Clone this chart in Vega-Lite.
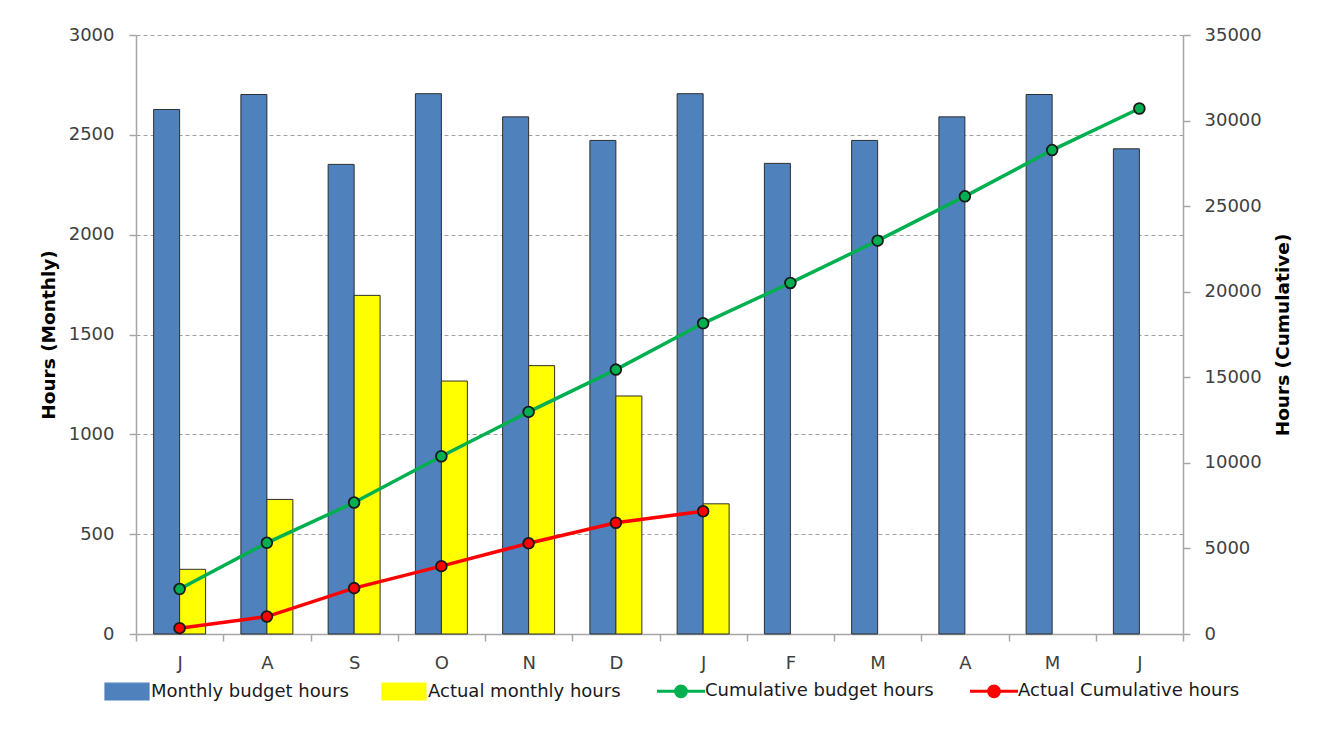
{
  "$schema": "https://vega.github.io/schema/vega-lite/v6.json",
  "width": 1047,
  "height": 599,
  "autosize": {"type": "none"},
  "padding": {"left": 136, "top": 35, "right": 137, "bottom": 119},
  "background": "white",
  "config": {
    "view": {"stroke": null},
    "font": "DejaVu Sans",
    "axis": {
      "labelFont": "DejaVu Sans",
      "labelFontSize": 18,
      "labelColor": "#404040",
      "titleFont": "DejaVu Sans",
      "titleFontSize": 18.5,
      "titleFontWeight": "bold",
      "titleColor": "#000000",
      "domainColor": "#a6a6a6",
      "domainWidth": 1.5,
      "tickColor": "#a6a6a6",
      "tickWidth": 1.5,
      "tickSize": 7
    },
    "legend": {"labelFont": "DejaVu Sans", "labelFontSize": 18, "labelColor": "#1a1a1a", "labelLimit": 400}
  },
  "datasets": {
    "bars": [
      {"month": "Jul", "series": "Monthly budget hours", "hours": 2627},
      {"month": "Aug", "series": "Monthly budget hours", "hours": 2702},
      {"month": "Sep", "series": "Monthly budget hours", "hours": 2352},
      {"month": "Oct", "series": "Monthly budget hours", "hours": 2706},
      {"month": "Nov", "series": "Monthly budget hours", "hours": 2590},
      {"month": "Dec", "series": "Monthly budget hours", "hours": 2472},
      {"month": "Jan", "series": "Monthly budget hours", "hours": 2706},
      {"month": "Feb", "series": "Monthly budget hours", "hours": 2357},
      {"month": "Mar", "series": "Monthly budget hours", "hours": 2472},
      {"month": "Apr", "series": "Monthly budget hours", "hours": 2590},
      {"month": "May", "series": "Monthly budget hours", "hours": 2702},
      {"month": "Jun", "series": "Monthly budget hours", "hours": 2430},
      {"month": "Jul", "series": "Actual monthly hours", "hours": 324},
      {"month": "Aug", "series": "Actual monthly hours", "hours": 674},
      {"month": "Sep", "series": "Actual monthly hours", "hours": 1696},
      {"month": "Oct", "series": "Actual monthly hours", "hours": 1267},
      {"month": "Nov", "series": "Actual monthly hours", "hours": 1344},
      {"month": "Dec", "series": "Actual monthly hours", "hours": 1192},
      {"month": "Jan", "series": "Actual monthly hours", "hours": 652}
    ],
    "lines": [
      {"month": "Jul", "series": "Cumulative budget hours", "cum": 2627},
      {"month": "Aug", "series": "Cumulative budget hours", "cum": 5329},
      {"month": "Sep", "series": "Cumulative budget hours", "cum": 7681},
      {"month": "Oct", "series": "Cumulative budget hours", "cum": 10387},
      {"month": "Nov", "series": "Cumulative budget hours", "cum": 12977},
      {"month": "Dec", "series": "Cumulative budget hours", "cum": 15449},
      {"month": "Jan", "series": "Cumulative budget hours", "cum": 18155},
      {"month": "Feb", "series": "Cumulative budget hours", "cum": 20512},
      {"month": "Mar", "series": "Cumulative budget hours", "cum": 22984},
      {"month": "Apr", "series": "Cumulative budget hours", "cum": 25574},
      {"month": "May", "series": "Cumulative budget hours", "cum": 28276},
      {"month": "Jun", "series": "Cumulative budget hours", "cum": 30706},
      {"month": "Jul", "series": "Actual Cumulative hours", "cum": 340},
      {"month": "Aug", "series": "Actual Cumulative hours", "cum": 1020},
      {"month": "Sep", "series": "Actual Cumulative hours", "cum": 2680},
      {"month": "Oct", "series": "Actual Cumulative hours", "cum": 3965},
      {"month": "Nov", "series": "Actual Cumulative hours", "cum": 5300},
      {"month": "Dec", "series": "Actual Cumulative hours", "cum": 6500},
      {"month": "Jan", "series": "Actual Cumulative hours", "cum": 7170}
    ]
  },
  "layer": [
    {
      "data": {"name": "bars"},
      "mark": {"type": "bar", "stroke": "#2e2e2e", "strokeWidth": 1},
      "encoding": {
        "x": {
          "field": "month",
          "type": "nominal",
          "sort": ["Jul", "Aug", "Sep", "Oct", "Nov", "Dec", "Jan", "Feb", "Mar", "Apr", "May", "Jun"],
          "scale": {"paddingInner": 0, "paddingOuter": 0},
          "axis": {
            "title": null,
            "labelAngle": 0,
            "labelExpr": "slice(datum.label, 0, 1)",
            "tickBand": "extent",
            "labelPadding": 13,
            "grid": false
          }
        },
        "xOffset": {
          "field": "series",
          "type": "nominal",
          "scale": {"domain": ["Monthly budget hours", "Actual monthly hours"], "paddingInner": 0, "paddingOuter": 0.678}
        },
        "y": {
          "field": "hours",
          "type": "quantitative",
          "scale": {"domain": [0, 3000], "nice": false},
          "axis": {
            "title": "Hours (Monthly)",
            "values": [0, 500, 1000, 1500, 2000, 2500, 3000],
            "format": "d",
            "grid": true,
            "gridDash": [4, 3],
            "gridColor": "#a0a0a0",
            "gridWidth": 1,
            "labelPadding": 15,
            "titlePadding": 10
          }
        },
        "color": {
          "field": "series",
          "type": "nominal",
          "scale": {
            "domain": ["Monthly budget hours", "Actual monthly hours", "Cumulative budget hours", "Actual Cumulative hours"],
            "range": ["#4F81BD", "#FFFF00", "#00B050", "#FF0000"]
          },
          "legend": {
            "title": null,
            "orient": "none",
            "legendX": -18,
            "legendY": 647,
            "direction": "horizontal",
            "symbolType": "M-1.1,-0.42H1.1V0.42H-1.1Z",
            "symbolSize": 1600,
            "symbolStrokeColor": "#2e2e2e",
            "symbolStrokeWidth": 1,
            "labelOffset": 15,
            "columnPadding": 30,
            "encode": {
              "symbols": {
                "update": {
                  "shape": {"signal": "(datum.value == 'Monthly budget hours' || datum.value == 'Actual monthly hours') ? 'M-1.1,-0.42H1.1V0.42H-1.1Z' : 'M-1.2,0H-0.27M0.27,0H1.2M-0.27,0A0.27,0.27 0 1,1 0.27,0A0.27,0.27 0 1,1 -0.27,0Z'"},
                  "stroke": {"signal": "(datum.value == 'Monthly budget hours' || datum.value == 'Actual monthly hours') ? '#2e2e2e' : scale('color', datum.value)"},
                  "strokeWidth": {"signal": "(datum.value == 'Monthly budget hours' || datum.value == 'Actual monthly hours') ? 1.2 : 3"}
                }
              }
            }
          }
        }
      }
    },
    {
      "data": {"name": "lines"},
      "mark": {
        "type": "line",
        "strokeWidth": 3.5,
        "point": {"filled": true, "size": 115, "stroke": "#1a1a1a", "strokeWidth": 1.8}
      },
      "encoding": {
        "x": {
          "field": "month",
          "type": "nominal",
          "sort": ["Jul", "Aug", "Sep", "Oct", "Nov", "Dec", "Jan", "Feb", "Mar", "Apr", "May", "Jun"]
        },
        "y": {
          "field": "cum",
          "type": "quantitative",
          "scale": {"domain": [0, 35000], "nice": false},
          "axis": {
            "orient": "right",
            "title": "Hours (Cumulative)",
            "titleAngle": -90,
            "titleBaseline": "top",
            "values": [0, 5000, 10000, 15000, 20000, 25000, 30000, 35000],
            "format": "d",
            "grid": false,
            "labelPadding": 14,
            "titlePadding": 12
          }
        },
        "color": {"field": "series", "type": "nominal"}
      }
    }
  ],
  "resolve": {"scale": {"y": "independent"}}
}
